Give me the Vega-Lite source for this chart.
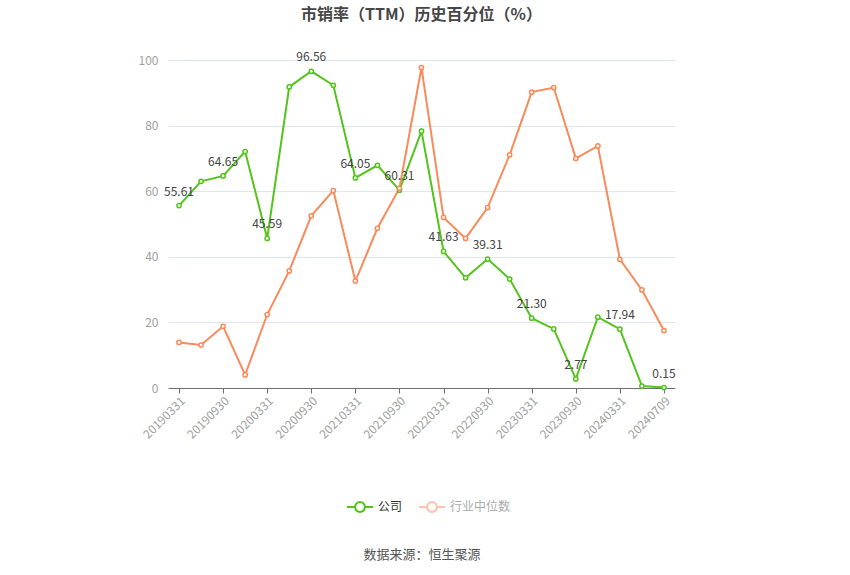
{
  "$schema": "https://vega.github.io/schema/vega-lite/v6.json",
  "width": 507,
  "height": 328,
  "autosize": {"type": "none"},
  "padding": {"left": 168, "top": 60, "right": 175, "bottom": 187},
  "background": "white",
  "config": {
    "font": "Noto Sans CJK SC",
    "view": {"stroke": null}
  },
  "title": {
    "text": "市销率（TTM）历史百分位（%）",
    "fontSize": 16,
    "fontWeight": "bold",
    "color": "#464646",
    "anchor": "middle",
    "offset": 28
  },
  "data": {
    "values": [
      {"d": "20190331", "公司": 55.61, "行业中位数": 13.9},
      {"d": "20190630", "公司": 63.0, "行业中位数": 13.1},
      {"d": "20190930", "公司": 64.65, "行业中位数": 18.8},
      {"d": "20191231", "公司": 72.1, "行业中位数": 4.0},
      {"d": "20200331", "公司": 45.59, "行业中位数": 22.4},
      {"d": "20200630", "公司": 91.8, "行业中位数": 35.7},
      {"d": "20200930", "公司": 96.56, "行业中位数": 52.5},
      {"d": "20201231", "公司": 92.3, "行业中位数": 60.2},
      {"d": "20210331", "公司": 64.05, "行业中位数": 32.6},
      {"d": "20210630", "公司": 67.9, "行业中位数": 48.7},
      {"d": "20210930", "公司": 60.31, "行业中位数": 60.9},
      {"d": "20211231", "公司": 78.3, "行业中位数": 97.7},
      {"d": "20220331", "公司": 41.63, "行业中位数": 52.0},
      {"d": "20220630", "公司": 33.6, "行业中位数": 45.6},
      {"d": "20220930", "公司": 39.31, "行业中位数": 55.0},
      {"d": "20221231", "公司": 33.2, "行业中位数": 71.1},
      {"d": "20230331", "公司": 21.3, "行业中位数": 90.2},
      {"d": "20230630", "公司": 18.0, "行业中位数": 91.6},
      {"d": "20230930", "公司": 2.77, "行业中位数": 70.0},
      {"d": "20231231", "公司": 21.6, "行业中位数": 73.8},
      {"d": "20240331", "公司": 17.94, "行业中位数": 39.2},
      {"d": "20240630", "公司": 0.6, "行业中位数": 29.9},
      {"d": "20240709", "公司": 0.15, "行业中位数": 17.5}
    ]
  },
  "transform": [
    {"window": [{"op": "row_number", "as": "rn"}]},
    {"fold": ["公司", "行业中位数"], "as": ["series", "value"]}
  ],
  "encoding": {
    "x": {
      "field": "d",
      "type": "ordinal",
      "sort": null,
      "scale": {"type": "point", "padding": 0.5},
      "axis": {
        "values": ["20190331", "20190930", "20200331", "20200930", "20210331", "20210930", "20220331", "20220930", "20230331", "20230930", "20240331", "20240709"],
        "labelAngle": -45,
        "labelAlign": "right",
        "labelBaseline": "top",
        "labelColor": "#a0a0a0",
        "labelFontSize": 12,
        "labelPadding": 2,
        "domainColor": "#6e7079",
        "tickColor": "#6e7079",
        "tickSize": 5,
        "grid": false,
        "title": "数据来源：恒生聚源",
        "titleY": 166,
        "titleBaseline": "middle",
        "titleFontSize": 13,
        "titleFontWeight": "normal",
        "titleColor": "#555555"
      }
    },
    "y": {
      "field": "value",
      "type": "quantitative",
      "scale": {"domain": [0, 100], "nice": false},
      "axis": {
        "values": [0, 20, 40, 60, 80, 100],
        "title": null,
        "domain": false,
        "ticks": false,
        "labelColor": "#a0a0a0",
        "labelFontSize": 12,
        "labelPadding": 10,
        "gridColor": "#e0e6f1"
      }
    },
    "color": {
      "field": "series",
      "type": "nominal",
      "scale": {"domain": ["公司", "行业中位数"], "range": ["#52c41a", "#fa8a5a"]},
      "legend": {
        "title": null,
        "orient": "none",
        "legendX": 178,
        "legendY": 433,
        "direction": "horizontal",
        "symbolType": "M-1,0L-0.38,0M0.38,0L1,0M-0.38,0A0.38,0.38,0,1,1,0.38,0A0.38,0.38,0,1,1,-0.38,0Z",
        "symbolSize": 676,
        "symbolStrokeWidth": 2,
        "symbolFillColor": "white",
        "labelFontSize": 12,
        "labelOffset": 4,
        "columnPadding": 12,
        "encode": {
          "labels": {"update": {"fill": {"signal": "datum.label == '公司' ? '#333333' : '#aaaaaa'"}}},
          "symbols": {"update": {"opacity": {"signal": "datum.label == '公司' ? 1 : 0.5"}}}
        }
      }
    }
  },
  "layer": [
    {
      "mark": {
        "type": "line",
        "strokeWidth": 2,
        "point": {"filled": false, "fill": "white", "size": 18, "strokeWidth": 1.5}
      }
    },
    {
      "transform": [
        {"filter": "datum.series == '公司' && datum.rn % 2 == 1"}
      ],
      "mark": {"type": "text", "dy": -14, "fontSize": 12, "color": "#444444"},
      "encoding": {
        "text": {"field": "value", "type": "quantitative", "format": ".2f"},
        "color": {"value": "#444444"}
      }
    }
  ]
}
